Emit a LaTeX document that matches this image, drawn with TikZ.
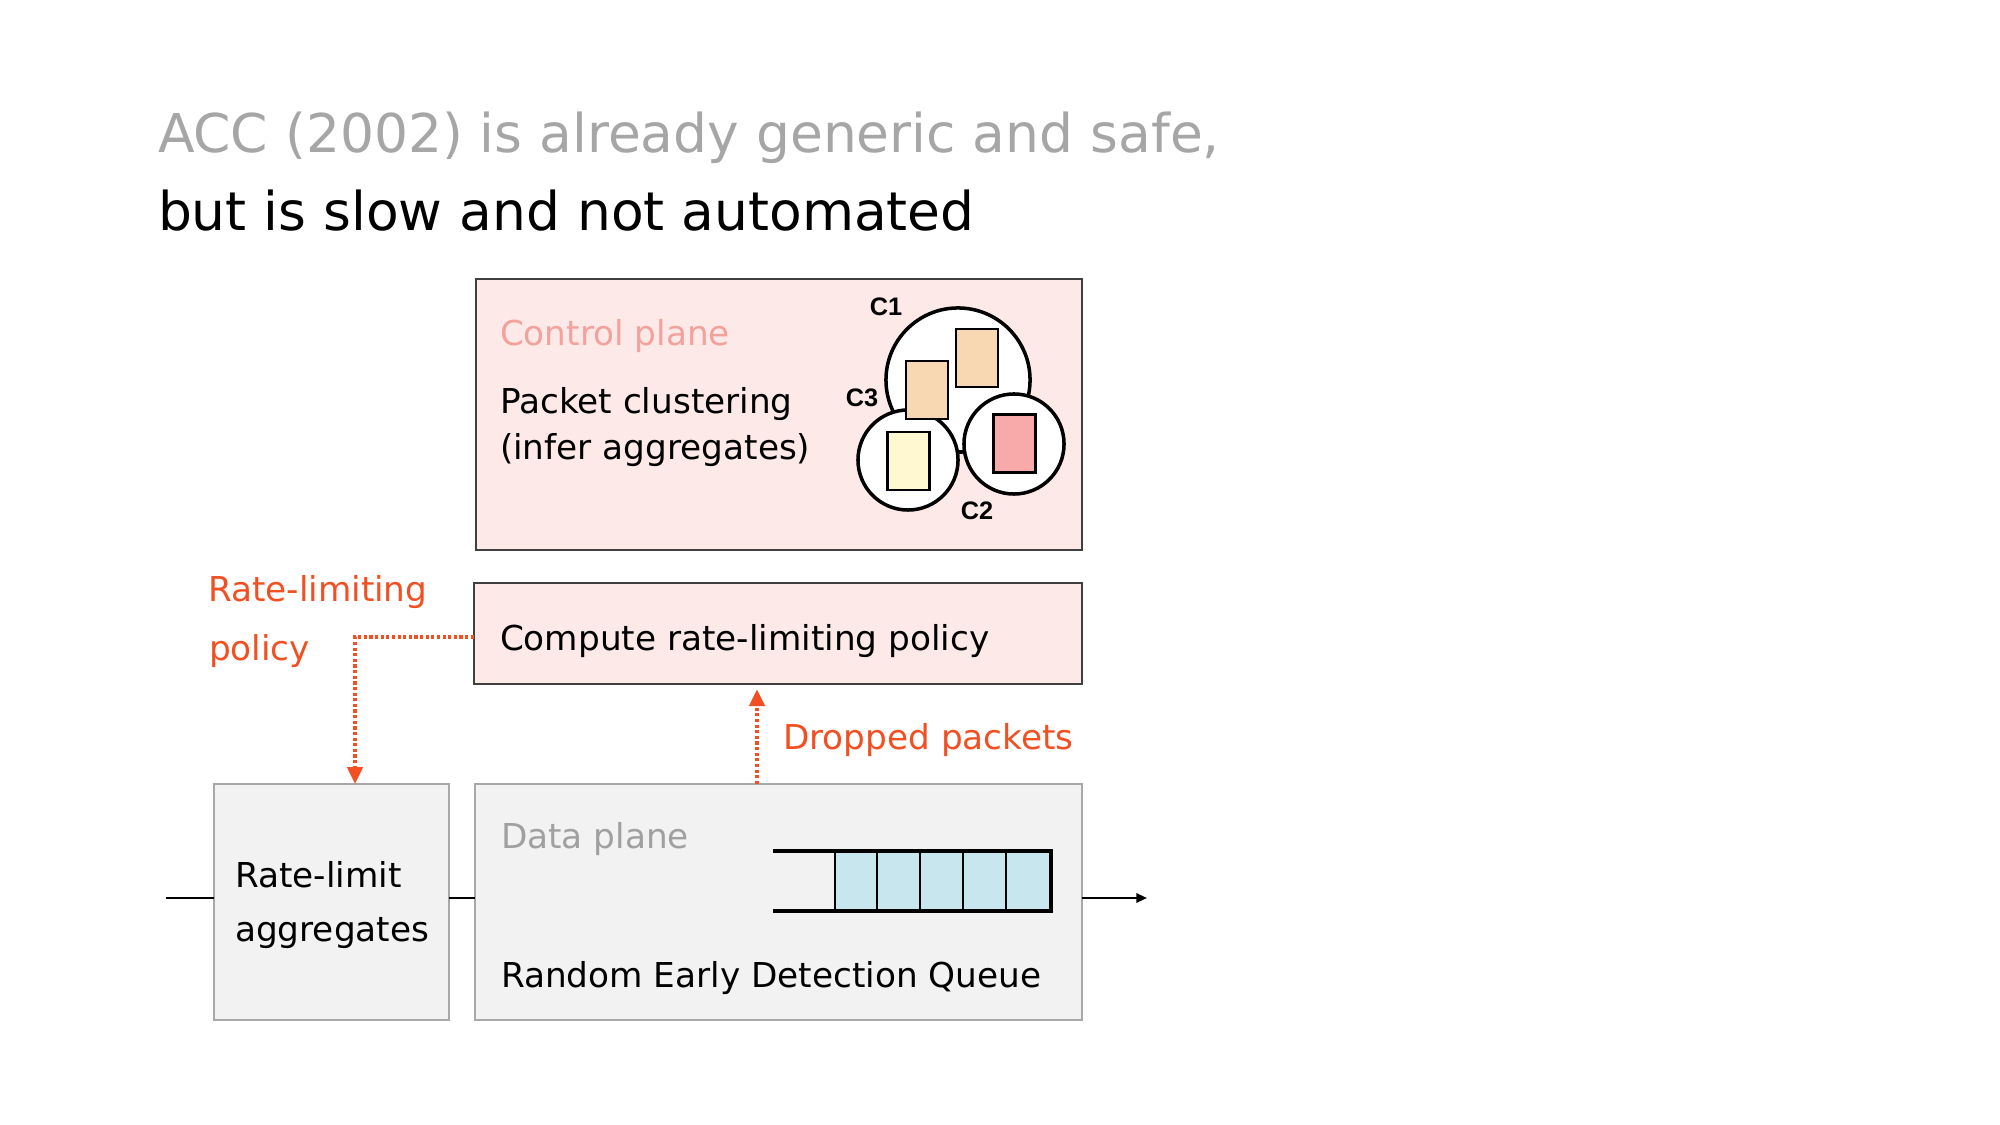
\documentclass[tikz,border=0pt]{standalone}
\usepackage{fontspec}
\setmainfont{DejaVu Sans}
\newfontfamily\labfont{Liberation Sans}
\usetikzlibrary{arrows.meta}
\definecolor{titlegray}{HTML}{A6A6A6}
\definecolor{ctrlfill}{HTML}{FCE9E8}
\definecolor{ctrlborder}{HTML}{404040}
\definecolor{salmon}{HTML}{F5A19B}
\definecolor{accent}{HTML}{F25022}
\definecolor{datafill}{HTML}{F2F2F2}
\definecolor{databorder}{HTML}{A8A8A8}
\definecolor{dptext}{HTML}{A0A0A0}
\definecolor{qblue}{HTML}{C8E6EE}
\definecolor{peach}{HTML}{F8D8B2}
\definecolor{paleyellow}{HTML}{FFF8D0}
\definecolor{pinkbox}{HTML}{F8AAAA}
\begin{document}
\begin{tikzpicture}[x=0.01cm,y=-0.01cm,
  cbox/.style={draw=ctrlborder, fill=ctrlfill, line width=0.45pt, inner sep=0pt, outer sep=0pt},
  dbox/.style={draw=databorder, fill=datafill, line width=0.45pt, inner sep=0pt, outer sep=0pt},
  txt/.style={inner sep=0pt, outer sep=0pt, anchor=base west, font=\fontsize{9.75}{11}\selectfont},
  ttl/.style={inner sep=0pt, outer sep=0pt, anchor=base west, font=\fontsize{15.2}{18}\selectfont},
  circ/.style={circle, draw=black, fill=white, line width=1pt, inner sep=0pt, outer sep=0pt},
  pkt/.style={draw=black, line width=0.6pt, inner sep=0pt, minimum width=0.42cm, minimum height=0.58cm},
  clab/.style={inner sep=0pt, font=\labfont\bfseries\fontsize{7.2}{8}\selectfont},
  pol/.style={draw=accent, line width=0.9pt, dash pattern=on 0.9pt off 0.7pt, -{Triangle[length=4.8pt,width=4.4pt]}},
  flow/.style={draw=black, line width=0.6pt}
]
\useasboundingbox (0,0) rectangle (2000,1125);
% title
\node[ttl, text=titlegray] (t1) at (158,153) {ACC (2002) is already generic and safe,};
\node[ttl] (t2) at (158,231) {but is slow and not automated};
% boxes
\node[cbox, minimum width=6.06cm, minimum height=2.71cm] (ctrl) at (779,414.5) {};
\node[cbox, minimum width=6.08cm, minimum height=1.01cm] (comp) at (778,633.5) {};
\node[dbox, minimum width=2.35cm, minimum height=2.36cm] (rl) at (331.5,902) {};
\node[dbox, minimum width=6.07cm, minimum height=2.36cm] (dp) at (778.5,902) {};
% control plane texts
\node[txt, text=salmon] (cpl) at (500,346) {Control plane};
\node[txt] (pc1) at (500,414) {Packet clustering};
\node[txt] (pc2) at (500,460) {(infer aggregates)};
\node[txt] (cmp) at (500,651) {Compute rate-limiting policy};
% clusters
\node[circ, minimum size=1.44cm] (c1) at (958,380) {};
\coordinate (p3) at (908,460);
\coordinate (p2) at (1014,444);
\draw[line width=1pt] (p3) -- (p2);
\node[circ, minimum size=1.0cm] (c3) at (p3) {};
\node[circ, minimum size=1.0cm] (c2) at (p2) {};
\node[pkt, fill=peach] (r1) at (977,358) {};
\node[pkt, fill=peach] (r2) at (927,390) {};
\node[pkt, fill=paleyellow] (r3) at (908.5,461) {};
\node[pkt, fill=pinkbox] (r4) at (1014.5,443.5) {};
\node[clab] (l1) at (886,307) {C1};
\node[clab] (l3) at (862,398) {C3};
\node[clab] (l2) at (977,511) {C2};
% orange labels
\node[txt, text=accent] (rlp1) at (208,602) {Rate-limiting};
\node[txt, text=accent] (rlp2) at (209,661) {policy};
\node[txt, text=accent] (drp) at (783,749) {Dropped packets};
% data plane texts
\node[txt, text=dptext] (dpl) at (501,848) {Data plane};
\node[txt] (red) at (501,987) {Random Early Detection Queue};
\node[txt] (ra1) at (235,887) {Rate-limit};
\node[txt] (ra2) at (235,941) {aggregates};
% queue
\fill[qblue] (835,851) rectangle (1051,911);
\foreach \xx in {835,877,920,963,1006}{
  \draw[line width=0.45pt] (\xx,851) -- (\xx,911);
}
\draw[line width=1.2pt] (773,851) -- (1051,851) -- (1051,911) -- (773,911);
% connectors
\coordinate (kink) at (355,637);
\draw[pol] (kink -| comp.west) -- (kink) -- (kink |- rl.north);
\coordinate (dx) at (757,700);
\draw[pol] (dx |- dp.north) -- ([yshift=-1.5pt]dx |- comp.south);
\coordinate (fin) at (166,898);
\coordinate (fout) at (1147,898);
\draw[flow] (fin) -- (fin -| rl.west);
\draw[flow] (rl.east |- fin) -- (fin -| dp.west);
\draw[flow, -{Triangle[length=3pt,width=2.6pt]}] (dp.east |- fin) -- (fout);
\end{tikzpicture}
\end{document}
